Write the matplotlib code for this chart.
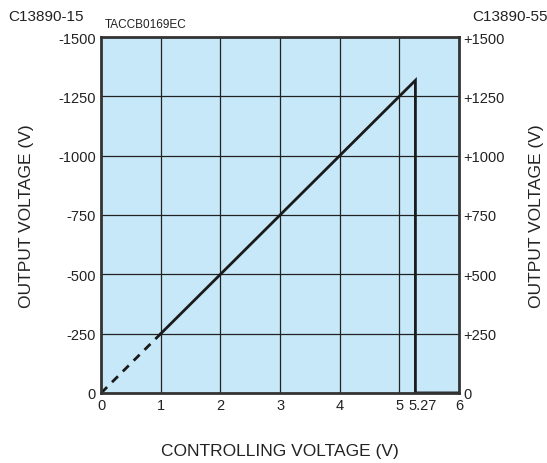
import matplotlib.pyplot as plt
import matplotlib.transforms as mtransforms
import numpy as np

plt.rcParams['font.family'] = ['Liberation Sans', 'DejaVu Sans']

# data (output magnitude in volts vs controlling voltage)
dash_x = [0, 1]
dash_y = [0, 250]
solid_x = [1, 5.27, 5.27, 6]
solid_y = [250, 1317.5, 0, 0]

x_ticks = [0, 1, 2, 3, 4, 5, 5.27, 6]
x_tick_labels = ['0', '1', '2', '3', '4', '5', '5.27', '6']
y_ticks = [0, 250, 500, 750, 1000, 1250, 1500]
left_labels = ['0', '-250', '-500', '-750', '-1000', '-1250', '-1500']
right_labels = ['0', '+250', '+500', '+750', '+1000', '+1250', '+1500']

W, H = 547, 464
fig = plt.figure(figsize=(W / 100, H / 100), dpi=100)
ax = fig.add_axes([0.185, 0.151, 0.654, 0.767])
ax.set_facecolor('#c6e8f8')

# grid
for gx in [1, 2, 3, 4, 5]:
    ax.axvline(gx, color='#222222', lw=0.9, zorder=1)
for gy in [250, 500, 750, 1000, 1250]:
    ax.axhline(gy, color='#222222', lw=0.9, zorder=1)

ax.plot(dash_x, dash_y, color='#1a1a1a', lw=2, ls=(0, (3, 2.5)), zorder=3)
ax.plot(solid_x, solid_y, color='#1a1a1a', lw=2, zorder=3, solid_joinstyle='miter')

ax.set_xlim(0, 6)
ax.set_ylim(0, 1500)
ax.set_xticks(x_ticks)
ax.set_xticklabels(x_tick_labels, fontsize=10.5)
ax.set_yticks(y_ticks)
ax.set_yticklabels(left_labels, fontsize=10.5)
ax.tick_params(length=0, pad=4, colors='#222222')

# nudge the 5.27 label right so it clears the 5
shift = mtransforms.ScaledTranslation(5 / 72, 0, fig.dpi_scale_trans)
for lbl in ax.get_xticklabels():
    if lbl.get_text() == '5.27':
        lbl.set_transform(lbl.get_transform() + shift)

for s in ax.spines.values():
    s.set_linewidth(2)
    s.set_color('#333333')
    s.set_zorder(4)

ax2 = ax.twinx()
ax2.set_ylim(0, 1500)
ax2.set_yticks(y_ticks)
ax2.set_yticklabels(right_labels, fontsize=10.5)
ax2.tick_params(length=0, pad=3, colors='#222222')
for s in ax2.spines.values():
    s.set_visible(False)

txt = dict(color='#222222', ha='center', va='center')
fig.text(0.5 * (101 + 459) / W, 1 - 452 / H, 'CONTROLLING VOLTAGE (V)', fontsize=12.5, **txt)
fig.text(27 / W, 1 - 216 / H, 'OUTPUT VOLTAGE (V)', fontsize=12.5, rotation=90, **txt)
fig.text(537 / W, 1 - 216 / H, 'OUTPUT VOLTAGE (V)', fontsize=12.5, rotation=90, **txt)

fig.text(8 / W, 1 - 17 / H, 'C13890-15', fontsize=11, ha='left', va='center', color='#222222')
fig.text(1.002, 1 - 17 / H, 'C13890-55', fontsize=11, ha='right', va='center', color='#222222')
fig.text(105 / W, 1 - 25 / H, 'TACCB0169EC', fontsize=8.5, ha='left', va='center', color='#222222')

fig.savefig('out.png', dpi=100, facecolor='white')
